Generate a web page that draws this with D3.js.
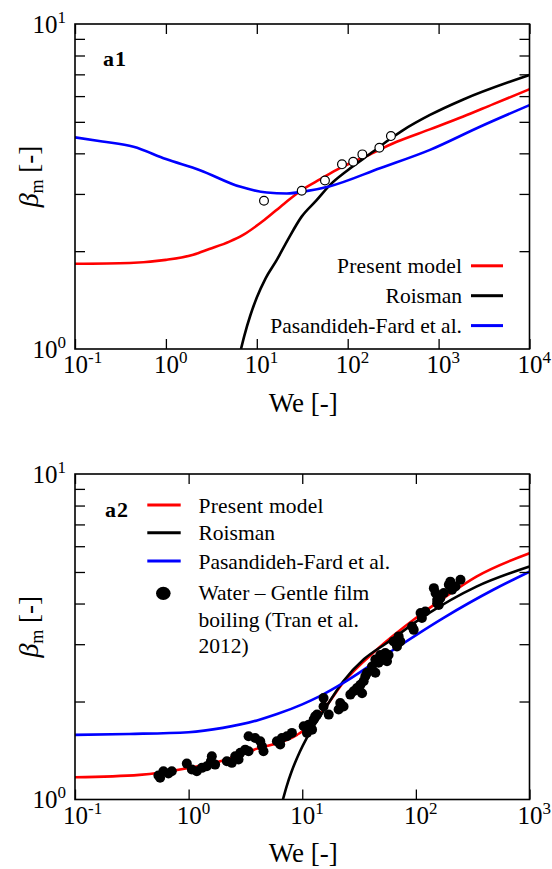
<!DOCTYPE html>
<html><head><meta charset="utf-8">
<script src="https://cdn.jsdelivr.net/npm/d3@7"></script>
<style>
body{margin:0;background:#fff;}
svg{display:block;}
</style></head><body>
<svg id="chart" width="552" height="869"></svg>
<script>
// ---------- DATA ----------
const seriesNames = ["Present model", "Roisman", "Pasandideh-Fard et al."];
const seriesColors = ["#ff0000", "#000000", "#0000ff"];
const yTickExps = [0, 1];
const yMinorTicks = [2, 3, 4, 5, 6, 7, 8, 9];

// Panel a1
const a1XExps = [-1, 0, 1, 2, 3, 4];
const a1PresentWe   = [0.1, 0.4, 1, 2, 3, 5, 7, 12, 20, 31, 50, 82, 150, 346, 800, 1870, 4000, 10000];
const a1PresentBeta = [1.83, 1.84, 1.88, 1.95, 2.03, 2.14, 2.24, 2.49, 2.80, 3.08, 3.33, 3.60, 3.89, 4.34, 4.74, 5.19, 5.67, 6.30];
const a1RoismanWe   = [6.7, 7.3, 8.5, 10, 12.5, 16.6, 22, 31, 45, 64, 100, 191, 300, 400, 804, 1870, 10000];
const a1RoismanBeta = [1.0, 1.10, 1.27, 1.44, 1.65, 1.88, 2.17, 2.55, 2.86, 3.20, 3.55, 4.05, 4.45, 4.70, 5.25, 5.86, 6.97];
const a1PasandWe    = [0.1, 0.2, 0.44, 1, 2.37, 6.5, 12.9, 21.3, 35, 63.8, 226, 804, 2850, 10000];
const a1PasandBeta  = [4.48, 4.35, 4.19, 3.84, 3.55, 3.16, 3.03, 3.01, 3.06, 3.17, 3.60, 4.10, 4.83, 5.63];
const a1ExpWe   = [12.0, 31.2, 56.2, 86.5, 115, 145, 223, 299];
const a1ExpBeta = [2.86, 3.07, 3.30, 3.70, 3.77, 3.97, 4.16, 4.52];

// Panel a2
const a2XExps = [-1, 0, 1, 2, 3];
const a2PresentWe   = [0.1, 0.37, 1, 1.9, 3.7, 9, 12, 16, 22.8, 44.9, 100, 174, 341, 1000];
const a2PresentBeta = [1.17, 1.19, 1.25, 1.31, 1.42, 1.58, 1.70, 1.92, 2.28, 2.88, 3.61, 4.15, 4.84, 5.71];
const a2RoismanWe   = [6.76, 7.3, 8, 9.5, 11, 15.4, 22.8, 35, 55, 123, 341, 1000];
const a2RoismanBeta = [1.0, 1.10, 1.21, 1.40, 1.55, 1.87, 2.30, 2.70, 3.02, 3.69, 4.51, 5.20];
const a2PasandWe    = [0.1, 0.3, 1, 2, 4, 6, 10, 14, 24.4, 63, 174, 480, 1000];
const a2PasandBeta  = [1.58, 1.59, 1.61, 1.66, 1.75, 1.83, 1.96, 2.07, 2.31, 2.88, 3.61, 4.41, 5.01];
const tranWe = [0.542,0.600,0.664,0.711,0.561, 0.964,1.067,1.18,1.31,1.445,1.57,1.60,1.71,
  2.17,2.40,2.57,2.85,3.15,3.37,2.75, 3.37,3.85,4.42,4.56,4.27, 5.98,6.62,7.33,8.11,6.40,
  10.3,11.4,12.6,13.5,11.0,12.2, 13.0,15.4,15.4,17.1,21.6,20.9,23.1,
  26.5,28.3,30.3,32.5,34.7,33.6,31.3,35.9,37.2, 41.1,44.0,44.0,47.0,48.6,52.0,53.8,55.7,57.5,
  63.7,68.2,72.9,70.5, 92.6,95.7, 110,113,121,
  144,149,154,159,164,176,195,201,208,223,247,154];
const tranBeta = [1.185,1.221,1.202,1.221,1.166, 1.289,1.236,1.221,1.251,1.265,1.311,1.358,1.28,
  1.311,1.296,1.358,1.391,1.423,1.406,1.327, 1.564,1.546,1.457,1.406,1.51, 1.51,1.546,1.564,1.602,1.475,
  1.679,1.698,1.76,1.823,1.602,1.639, 1.80,2.05,1.93,1.823,1.98,1.89,1.93,
  2.10,2.15,2.20,2.25,2.31,2.12,2.17,2.39,2.45, 2.56,2.69,2.45,2.63,2.78,2.69,2.82,2.66,2.78,
  3.06,2.95,3.06,3.17, 3.40,3.32, 3.74,3.61,3.78,
  4.46,4.31,4.11,3.96,4.15,4.31,4.57,4.67,4.41,4.51,4.73,4.01];
const tranLegend = ["Water \u2013 Gentle film", "boiling (Tran et al.", "2012)"];

// ---------- DRAWING ----------
const svg = d3.select("#chart");
const FONT = "Liberation Serif";
function serif(sel) { return sel.style("font-family", FONT); }

function drawPanel(p) {
  const b = p.box;
  const g = svg.append("g");
  const x = d3.scaleLog().domain([Math.pow(10, p.xExps[0]), Math.pow(10, p.xExps[p.xExps.length - 1])]).range([b.left, b.right]);
  const y = d3.scaleLog().domain([1, 10]).range([b.bottom, b.top]);

  svg.append("clipPath").attr("id", "clip" + p.id).append("rect")
    .attr("x", b.left).attr("y", b.top).attr("width", b.right - b.left).attr("height", b.bottom - b.top);

  const line = d3.line().x(d => x(d[0])).y(d => y(d[1])).curve(d3.curveMonotoneX);
  const plot = g.append("g").attr("clip-path", "url(#clip" + p.id + ")");
  p.curves.forEach((c, i) => {
    plot.append("path").datum(d3.zip(c[0], c[1])).attr("d", line)
      .attr("fill", "none").attr("stroke", seriesColors[i]).attr("stroke-width", 2.6)
      .attr("stroke-linejoin", "round");
  });
  if (p.points) {
    plot.selectAll("circle.pt").data(d3.zip(p.points[0], p.points[1])).join("circle")
      .attr("class", "pt")
      .attr("cx", d => x(d[0])).attr("cy", d => y(d[1])).attr("r", p.pointR)
      .attr("fill", p.pointFill).attr("stroke", "#000").attr("stroke-width", p.pointStroke);
  }

  g.append("rect").attr("x", b.left).attr("y", b.top).attr("width", b.right - b.left).attr("height", b.bottom - b.top)
    .attr("fill", "none").attr("stroke", "#000").attr("stroke-width", 1.6);

  const decades = p.xExps.map(e => Math.pow(10, e));
  function styleAxis(sel) {
    sel.attr("font-family", null).attr("font-size", null);
    sel.select(".domain").remove();
    sel.selectAll(".tick line").attr("stroke", "#000").attr("stroke-width", 1.3);
    sel.selectAll(".tick text").remove();
  }
  const xb = g.append("g").attr("transform", `translate(0,${b.bottom})`)
    .call(d3.axisBottom(x).tickValues(decades).tickSize(-10).tickSizeOuter(0).tickFormat(() => ""));
  styleAxis(xb);
  const xt = g.append("g").attr("transform", `translate(0,${b.top})`)
    .call(d3.axisTop(x).tickValues(decades).tickSize(-10).tickSizeOuter(0).tickFormat(() => ""));
  styleAxis(xt);
  const yl = g.append("g").attr("transform", `translate(${b.left},0)`)
    .call(d3.axisLeft(y).tickValues(yMinorTicks).tickSize(-10).tickSizeOuter(0).tickFormat(() => ""));
  styleAxis(yl);
  const yr = g.append("g").attr("transform", `translate(${b.right},0)`)
    .call(d3.axisRight(y).tickValues(yMinorTicks).tickSize(-10).tickSizeOuter(0).tickFormat(() => ""));
  styleAxis(yr);

  function powLabel(t, d) {
    const e = Math.round(Math.log10(d));
    serif(t).attr("fill", "#000").style("font-size", "25px");
    t.append("tspan").text("10");
    t.append("tspan").attr("dy", -10).style("font-size", "17px").text(e < 0 ? "-" + (-e) : String(e));
  }
  xb.selectAll(".tick").append("text").attr("x", -12.5).attr("y", 24).attr("text-anchor", "start")
    .each(function (d) { powLabel(d3.select(this), d); });

  const yLab = g.append("g").attr("transform", `translate(${b.left},0)`)
    .call(d3.axisLeft(y).tickValues(yTickExps.map(e => Math.pow(10, e))).tickSize(0).tickFormat(() => ""));
  yLab.attr("font-family", null).attr("font-size", null);
  yLab.select(".domain").remove();
  yLab.selectAll(".tick text").remove();
  yLab.selectAll(".tick").append("text").attr("x", -9).attr("y", 8).attr("text-anchor", "end")
    .each(function (d) { powLabel(d3.select(this), d); });

  serif(g.append("text")).attr("x", (b.left + b.right) / 2 + 1).attr("y", b.bottom + 62.5)
    .attr("text-anchor", "middle").style("font-size", "27px").text("We [-]");
  const yt = serif(g.append("text")).attr("text-anchor", "middle")
    .attr("transform", `translate(38,${(b.top + b.bottom) / 2 - 10}) rotate(-90)`);
  yt.append("tspan").style("font-size", "28px").style("font-style", "italic").text("\u03B2");
  yt.append("tspan").style("font-size", "18px").attr("dy", 5).text("m");
  yt.append("tspan").style("font-size", "27px").attr("dy", -5).text(" [-]");

  serif(g.append("text")).attr("x", p.tag.x).attr("y", p.tag.y).style("font-size", "22px").style("font-weight", "bold")
    .attr("letter-spacing", 1).text(p.tag.text);

  p.legend(g);
}

drawPanel({
  id: "a1",
  box: { left: 75, right: 529.5, top: 24, bottom: 349 },
  xExps: a1XExps,
  curves: [[a1PresentWe, a1PresentBeta], [a1RoismanWe, a1RoismanBeta], [a1PasandWe, a1PasandBeta]],
  points: [a1ExpWe, a1ExpBeta], pointR: 4.4, pointFill: "#fff", pointStroke: 1.2,
  tag: { text: "a1", x: 103, y: 66 },
  legend: g => {
    const rows = [265.8, 295.7, 325.6];
    const lens = [125, null, null];
    seriesNames.forEach((n, i) => {
      g.append("line").attr("x1", 471).attr("x2", 503).attr("y1", rows[i]).attr("y2", rows[i])
        .attr("stroke", seriesColors[i]).attr("stroke-width", 3);
      const t = serif(g.append("text")).attr("x", 462).attr("y", rows[i] + 7.5).attr("text-anchor", "end")
        .style("font-size", "21.5px").text(n);
      if (lens[i]) t.attr("textLength", lens[i]).attr("lengthAdjust", "spacing");
    });
  }
});

drawPanel({
  id: "a2",
  box: { left: 75, right: 529.5, top: 474, bottom: 799.5 },
  xExps: a2XExps,
  curves: [[a2PresentWe, a2PresentBeta], [a2RoismanWe, a2RoismanBeta], [a2PasandWe, a2PasandBeta]],
  points: [tranWe, tranBeta], pointR: 5, pointFill: "#000", pointStroke: 0,
  tag: { text: "a2", x: 105, y: 517 },
  legend: g => {
    const rows = [505, 532.7, 561];
    const lens = [125, null, null];
    seriesNames.forEach((n, i) => {
      g.append("line").attr("x1", 147.3).attr("x2", 180.7).attr("y1", rows[i]).attr("y2", rows[i])
        .attr("stroke", seriesColors[i]).attr("stroke-width", 3);
      const t = serif(g.append("text")).attr("x", 198.5).attr("y", rows[i] + 7.5)
        .style("font-size", "21.5px").text(n);
      if (lens[i]) t.attr("textLength", lens[i]).attr("lengthAdjust", "spacing");
    });
    g.append("ellipse").attr("cx", 163.3).attr("cy", 593.3).attr("rx", 7.3).attr("ry", 6.6).attr("fill", "#000");
    tranLegend.forEach((s, i) => {
      serif(g.append("text")).attr("x", 198.5).attr("y", 600 + i * 26.7).style("font-size", "21.5px").text(s);
    });
  }
});
</script>
</body></html>
